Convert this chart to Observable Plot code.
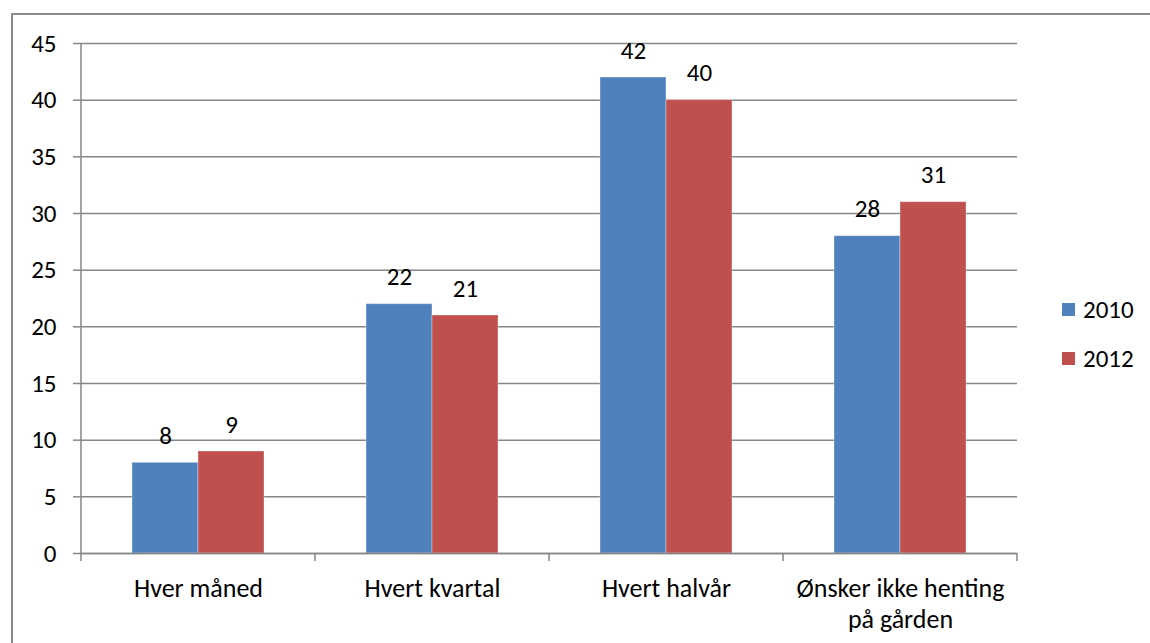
<!DOCTYPE html>
<html><head><meta charset="utf-8">
<script src="https://cdn.jsdelivr.net/npm/d3@7"></script>
<script src="https://cdn.jsdelivr.net/npm/@observablehq/plot@0.6"></script>
<style>
html,body{margin:0;padding:0;background:#fff;}
body{width:1150px;height:643px;position:relative;overflow:hidden;font-family:Carlito,Lato,"Open Sans",sans-serif;}
#frame{position:absolute;left:11px;top:13px;width:1160px;height:660px;border:2px solid #8a8a8a;box-sizing:border-box;}
#chart{position:absolute;left:0;top:0;}
#legend{position:absolute;left:1062px;top:285px;font-size:25px;color:#000;}
.item{display:flex;align-items:center;height:49px;}
.sw{width:13px;height:13px;margin-right:8px;}
</style></head>
<body>
<div id="frame"></div>
<div id="chart"></div>
<div id="legend"></div>
<script>
const categories = ["Hver måned", "Hvert kvartal", "Hvert halvår", "Ønsker ikke henting\npå gården"];
const years = ["2010", "2012"];
const values2010 = [8, 22, 42, 28];
const values2012 = [9, 21, 40, 31];
const yTicks = [0, 5, 10, 15, 20, 25, 30, 35, 40, 45];
const colors = ["#4F81BD", "#C0504D"];

const data = [];
categories.forEach((c, i) => {
  data.push({cat: c, year: years[0], value: values2010[i]});
  data.push({cat: c, year: years[1], value: values2012[i]});
});

const axisGray = "#868686";
const FS = 25;
const chart = Plot.plot({
  width: 1150,
  height: 643,
  marginLeft: 80,
  marginRight: 132,
  marginTop: 43,
  marginBottom: 90,
  style: {fontFamily: "Carlito, Lato, 'Open Sans', sans-serif", fontSize: FS + "px", color: "#000", background: "transparent"},
  fx: {domain: categories, padding: 0, label: null},
  x: {domain: years, paddingInner: 0, paddingOuter: 0.75, axis: null, label: null},
  y: {domain: [0, 45], label: null},
  color: {domain: years, range: colors},
  marks: [
    Plot.gridY(yTicks, {stroke: axisGray, strokeOpacity: 1, strokeWidth: 1.5}),
    Plot.barY(data, {fx: "cat", x: "year", y: "value", fill: "year", stroke: "#ffffff", strokeOpacity: 0.35, strokeWidth: 1}),
    Plot.text(data, {fx: "cat", x: "year", y: "value", text: d => String(d.value), dy: -27, fontSize: FS, fill: "#000"}),
    Plot.ruleY([0], {stroke: axisGray, strokeWidth: 1.5}),
    Plot.axisY(yTicks, {tickSize: 8, tickPadding: 17, stroke: axisGray, strokeWidth: 1.5, fontSize: FS, fill: "#000", label: null}),
    Plot.axisFx({anchor: "bottom", tickSize: 0, tickPadding: 22, fontSize: 26, lineHeight: 1.19, fill: "#000", label: null})
  ]
});
document.getElementById("chart").appendChild(chart);

// Category boundary ticks and left axis line, positioned via the library's scales
const fx = chart.scale("fx");
const y = chart.scale("y");
const svg = d3.select(chart);
const bw = fx.bandwidth;
const y0 = y.apply(0), yTop = y.apply(45);
const bounds = categories.map(c => fx.apply(c)).concat([fx.apply(categories[categories.length - 1]) + bw]);
svg.append("g").selectAll("line").data(bounds).join("line")
  .attr("x1", d => d).attr("x2", d => d)
  .attr("y1", y0).attr("y2", y0 + 8)
  .attr("stroke", axisGray).attr("stroke-width", 1.5);
svg.append("line")
  .attr("x1", bounds[0]).attr("x2", bounds[0])
  .attr("y1", yTop).attr("y2", y0)
  .attr("stroke", axisGray).attr("stroke-width", 1.5);

const legend = d3.select("#legend");
years.forEach((yr, i) => {
  const it = legend.append("div").attr("class", "item");
  it.append("div").attr("class", "sw").style("background", colors[i]);
  it.append("span").text(yr);
});
</script>
</body></html>
